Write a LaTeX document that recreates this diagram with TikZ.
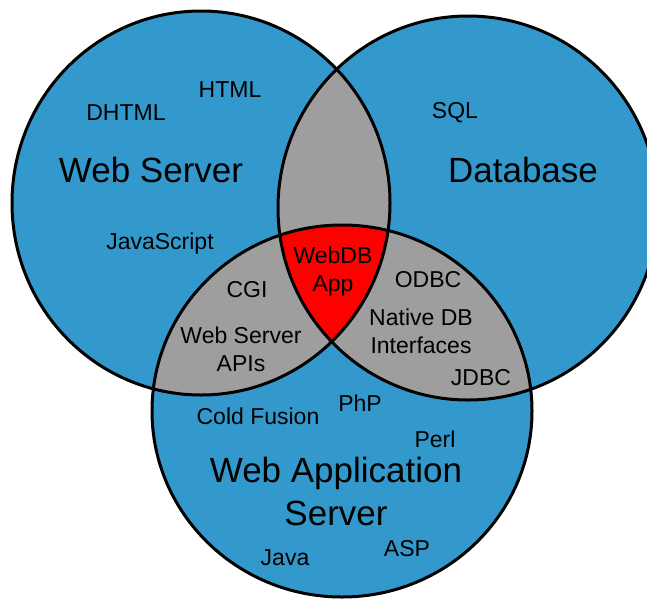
\documentclass[tikz,border=0pt]{standalone}
\usepackage{fontspec}
\setmainfont{Liberation Sans}
\definecolor{setblue}{RGB}{51,153,204}
\definecolor{lensgray}{RGB}{158,158,158}
\definecolor{corered}{RGB}{255,0,0}
\newcommand{\wspath}{(201,203) ellipse [x radius=189pt, y radius=192pt]}
\newcommand{\dbpath}{(468,208) ellipse [x radius=190pt, y radius=192pt]}
\newcommand{\appspath}{(342,411) ellipse [x radius=190pt, y radius=186pt]}
\begin{document}
\begin{tikzpicture}[x=1pt,y=-1pt,
  outline/.style={draw=black,line width=3pt},
  small/.style={font=\fontsize{23}{28}\selectfont,text=black,inner sep=0pt,align=center},
  big/.style={font=\fontsize{35}{43}\selectfont,text=black,inner sep=0pt,align=center}]
\useasboundingbox (0,0) rectangle (647,600);
\fill[white] (0,0) rectangle (647,600);
\begin{scope}
  \clip (0,0) rectangle (647,600);
  % the three sets
  \fill[setblue] \wspath;
  \fill[setblue] \dbpath;
  \fill[setblue] \appspath;
  % pairwise overlaps
  \begin{scope}\clip \wspath; \fill[lensgray] \dbpath; \end{scope}
  \begin{scope}\clip \wspath; \fill[lensgray] \appspath; \end{scope}
  \begin{scope}\clip \dbpath; \fill[lensgray] \appspath; \end{scope}
  % common core
  \begin{scope}\clip \wspath; \clip \dbpath; \fill[corered] \appspath; \end{scope}
  % outlines
  \draw[outline] \wspath;
  \draw[outline] \dbpath;
  \draw[outline] \appspath;
\end{scope}

% set titles
\node[big] (wstitle) at (151,170) {Web Server};
\node[big] (dbtitle) at (523,170) {Database};
\node[big] (apptitle) at (336,491) {Web Application\\Server};

% web server items
\node[small] (html) at (230,90) {HTML};
\node[small] (dhtml) at (126,113) {DHTML};
\node[small] (js) at (160,244) {JavaScript};

% database items
\node[small] (sql) at (455,113) {SQL};

% overlaps
\node[small] (webdb) at (333,272) {WebDB\\App};
\node[small] (cgi) at (247,290) {CGI};
\node[small] (wsapi) at (241,349) {Web Server\\APIs};
\node[small] (odbc) at (428,280) {ODBC};
\node[small] (native) at (421,331) {Native DB\\Interfaces};
\node[small] (jdbc) at (481,378) {JDBC};

% application server items
\node[small] (cf) at (258,416) {Cold Fusion};
\node[small] (php) at (360,403) {PhP};
\node[small] (perl) at (435,439) {Perl};
\node[small] (java) at (285,558) {Java};
\node[small] (asp) at (407,549) {ASP};
\end{tikzpicture}
\end{document}
